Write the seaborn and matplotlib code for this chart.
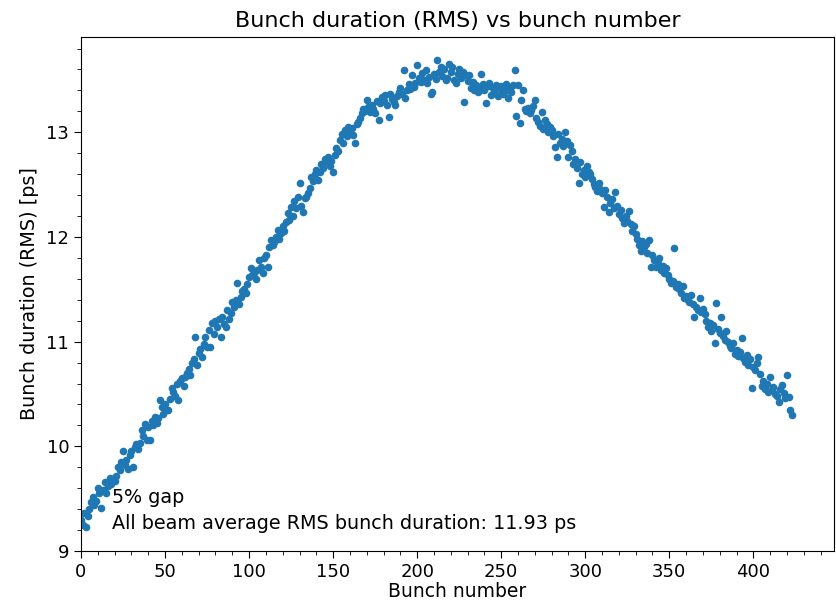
import matplotlib
matplotlib.use("Agg")
import matplotlib.pyplot as plt
from matplotlib.ticker import MultipleLocator
import numpy as np
import pandas as pd
import seaborn as sns

title = "Bunch duration (RMS) vs bunch number"
x_label = "Bunch number"
y_label = "Bunch duration (RMS) [ps]"
gap_text = "5% gap"
avg_text = "All beam average RMS bunch duration: 11.93 ps"

bunch_duration = [
    9.30, 9.25, 9.36, 9.23, 9.33, 9.40, 9.47, 9.52, 9.44, 9.48,
    9.60, 9.55, 9.41, 9.58, 9.66, 9.55, 9.62, 9.70, 9.64, 9.68,
    9.67, 9.72, 9.80, 9.77, 9.85, 9.96, 9.82, 9.87, 9.78, 9.92,
    9.96, 9.80, 9.99, 10.02, 9.97, 10.03, 10.16, 10.10, 10.21, 10.06,
    10.18, 10.06, 10.24, 10.20, 10.28, 10.22, 10.27, 10.44, 10.38, 10.31,
    10.40, 10.35, 10.35, 10.45, 10.56, 10.52, 10.48, 10.60, 10.44, 10.62,
    10.65, 10.58, 10.66, 10.70, 10.74, 10.68, 10.80, 10.83, 11.04, 10.78,
    10.89, 10.93, 10.85, 10.98, 11.04, 10.95, 11.11, 10.95, 11.18, 11.07,
    11.20, 11.14, 11.22, 11.04, 11.24, 11.17, 11.14, 11.30, 11.22, 11.27,
    11.38, 11.33, 11.40, 11.56, 11.36, 11.43, 11.48, 11.50, 11.46, 11.55,
    11.62, 11.70, 11.64, 11.66, 11.60, 11.68, 11.78, 11.71, 11.66, 11.80,
    11.83, 11.71, 11.90, 11.97, 11.92, 11.95, 12.00, 12.07, 11.98, 12.04,
    12.10, 12.06, 12.14, 12.23, 12.16, 12.29, 12.20, 12.34, 12.28, 12.38,
    12.52, 12.30, 12.24, 12.37, 12.38, 12.42, 12.47, 12.57, 12.53, 12.60,
    12.64, 12.54, 12.62, 12.70, 12.66, 12.74, 12.72, 12.76, 12.68, 12.73,
    12.62, 12.78, 12.85, 12.82, 12.93, 12.98, 12.90, 13.02, 12.96, 13.05,
    13.00, 13.04, 12.97, 12.90, 13.08, 13.10, 13.14, 13.18, 13.22, 13.20,
    13.31, 13.24, 13.19, 13.26, 13.22, 13.18, 13.30, 13.12, 13.28, 13.34,
    13.30, 13.36, 13.26, 13.15, 13.37, 13.32, 13.29, 13.26, 13.35, 13.38,
    13.42, 13.37, 13.59, 13.33, 13.40, 13.46, 13.41, 13.55, 13.43, 13.47,
    13.64, 13.52, 13.48, 13.57, 13.50, 13.59, 13.47, 13.53, 13.37, 13.38,
    13.56, 13.51, 13.69, 13.58, 13.62, 13.54, 13.60, 13.50, 13.52, 13.65,
    13.58, 13.62, 13.50, 13.47, 13.56, 13.60, 13.52, 13.58, 13.29, 13.55,
    13.49, 13.55, 13.42, 13.48, 13.40, 13.45, 13.38, 13.43, 13.56, 13.46,
    13.40, 13.28, 13.44, 13.47, 13.36, 13.42, 13.38, 13.45, 13.35, 13.41,
    13.44, 13.37, 13.39, 13.46, 13.33, 13.42, 13.38, 13.45, 13.59, 13.16,
    13.45, 13.09, 13.31, 13.40, 13.22, 13.20, 13.23, 13.18, 13.21, 13.25,
    13.31, 13.14, 13.10, 13.06, 13.19, 13.03, 13.12, 13.08, 13.00, 13.05,
    13.02, 12.96, 12.86, 12.76, 12.98, 12.90, 12.94, 12.87, 13.00, 12.92,
    12.76, 12.88, 12.82, 12.70, 12.74, 12.66, 12.52, 12.72, 12.60, 12.64,
    12.57, 12.68, 12.62, 12.60, 12.55, 12.51, 12.48, 12.44, 12.52, 12.46,
    12.42, 12.29, 12.45, 12.38, 12.24, 12.32, 12.36, 12.28, 12.43, 12.30,
    12.22, 12.26, 12.18, 12.13, 12.20, 12.15, 12.25, 12.12, 12.06, 12.10,
    12.03, 11.98, 11.92, 11.87, 11.96, 11.90, 11.93, 11.85, 11.97, 11.71,
    11.83, 11.78, 11.71, 11.75, 11.80, 11.68, 11.72, 11.66, 11.70, 11.64,
    11.60, 11.56, 11.58, 11.89, 11.52, 11.55, 11.50, 11.46, 11.53, 11.42,
    11.44, 11.40, 11.38, 11.45, 11.36, 11.24, 11.33, 11.30, 11.42, 11.28,
    11.31, 11.26, 11.20, 11.14, 11.18, 11.10, 11.16, 10.99, 11.37, 11.12,
    11.08, 11.24, 11.05, 11.02, 11.10, 11.00, 10.96, 10.94, 10.99, 10.88,
    10.92, 10.86, 10.90, 11.03, 10.84, 10.81, 10.87, 10.78, 10.83, 10.56,
    10.76, 10.73, 10.80, 10.85, 10.69, 10.58, 10.62, 10.55, 10.60, 10.52,
    10.66, 10.54, 10.57, 10.50, 10.48, 10.42, 10.55, 10.59, 10.51, 10.46,
    10.68, 10.47, 10.35, 10.30,
]
bunch_number = list(range(len(bunch_duration)))

df = pd.DataFrame({"bunch": bunch_number, "duration": bunch_duration})

fig = plt.figure(figsize=(8.36, 6.06), dpi=100)
ax = fig.add_axes([81 / 836, 1 - 551 / 606, (834 - 81) / 836, (551 - 37) / 606])

sns.scatterplot(data=df, x="bunch", y="duration", ax=ax, s=30,
                color="#1f77b4", linewidth=0, legend=False)

ax.set_xlim(0, 448)
ax.set_ylim(9, 13.91)
ax.xaxis.set_major_locator(MultipleLocator(50))
ax.xaxis.set_minor_locator(MultipleLocator(10))
ax.yaxis.set_major_locator(MultipleLocator(1))
ax.yaxis.set_minor_locator(MultipleLocator(0.2))
ax.tick_params(which="both", direction="out", labelsize=13, top=False, right=False)
ax.tick_params(which="major", length=5)
ax.tick_params(which="minor", length=3)

ax.set_title(title, fontsize=16, pad=7)
ax.set_xlabel(x_label, fontsize=13.5, labelpad=1)
ax.set_ylabel(y_label, fontsize=13.8, labelpad=5)

ax.text(0.041, 0.105, gap_text, transform=ax.transAxes, fontsize=13.8, va="center", ha="left")
ax.text(0.041, 0.054, avg_text, transform=ax.transAxes, fontsize=13.8, va="center", ha="left")

fig.savefig("out.png", dpi=100)
